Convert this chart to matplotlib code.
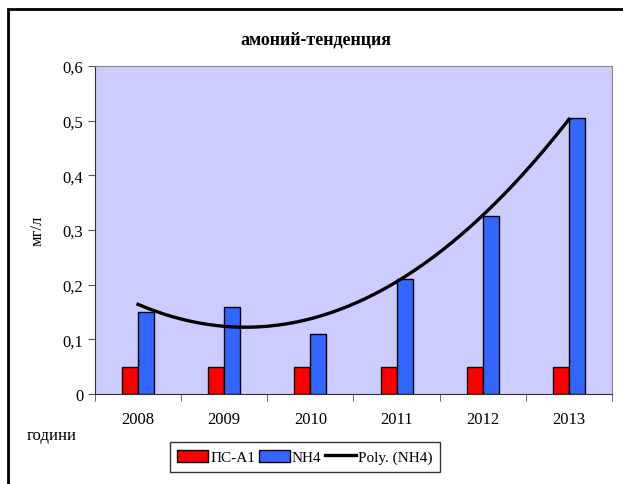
import numpy as np
import matplotlib
matplotlib.use("Agg")
import matplotlib.pyplot as plt
from matplotlib.patches import Rectangle

plt.rcParams['font.family'] = ['Liberation Serif', 'DejaVu Serif']

years = ["2008", "2009", "2010", "2011", "2012", "2013"]
ps_a1 = [0.05, 0.05, 0.05, 0.05, 0.05, 0.05]
nh4 = [0.15, 0.16, 0.11, 0.21, 0.325, 0.505]

W, H = 623, 485
fig = plt.figure(figsize=(W / 100, H / 100), dpi=100)
# plot area in pixels: left 95, right 612, top 67, bottom 395
ax = fig.add_axes([95 / W, 1 - 395 / H, (612 - 95) / W, (395 - 67) / H])
ax.set_facecolor('#CCCCFF')

x = np.arange(len(years))
bw = 0.185
b1 = ax.bar(x - bw / 2, ps_a1, bw, color='#FF0000', edgecolor='black', lw=1, label='ПС-А1', zorder=2)
b2 = ax.bar(x + bw / 2, nh4, bw, color='#3366FF', edgecolor='black', lw=1, label='NH4', zorder=2)

# 2nd order polynomial trend line of NH4
coef = np.polyfit(x, nh4, 2)
xs = np.linspace(0, len(years) - 1, 200)
ln, = ax.plot(xs, np.polyval(coef, xs), color='black', lw=2.4, label='Poly. (NH4)', zorder=3)

ax.set_xlim(-0.5, len(years) - 0.5)
ax.set_ylim(0, 0.6)
yt = np.arange(0, 0.61, 0.1)
ax.set_yticks(yt)
ax.set_yticklabels(['0' if v == 0 else f"{v:.1f}".replace('.', ',') for v in yt])
ax.set_xticks(x)
ax.set_xticklabels(years)
ax.set_xticks(np.arange(-0.5, len(years), 1), minor=True)
ax.tick_params(axis='x', which='major', length=0, pad=12, labelsize=12)
ax.tick_params(axis='x', which='minor', length=5, color='#555555')
ax.tick_params(axis='y', length=5, labelsize=12, color='#555555')
for s in ax.spines.values():
    s.set_color('#888888')
ax.spines['left'].set_color('#333333')
ax.spines['bottom'].set_color('#333333')

ax.set_ylabel('мг/л', fontsize=12, labelpad=12)
fig.text(52 / W, 1 - 436 / H, 'години', fontsize=12, ha='center', va='center')
fig.text(316 / W, 1 - 40 / H, 'амоний-тенденция', fontsize=13, fontweight='bold',
         ha='center', va='center')

leg = fig.legend([b1, b2, ln], ['ПС-А1', 'NH4', 'Poly. (NH4)'],
                 loc='center', bbox_to_anchor=(305 / W, 1 - 458 / H), ncol=3,
                 fontsize=11, frameon=True, fancybox=False, edgecolor='black',
                 handlelength=2.0, handleheight=0.8, handletextpad=0.15,
                 columnspacing=0.25, borderpad=0.5, borderaxespad=0)
leg.get_frame().set_linewidth(1)

# chart border
fig.patches.append(Rectangle((8 / W, -0.05), 1.1, 1 - 10 / H + 0.05,
                             transform=fig.transFigure, fill=False,
                             edgecolor='black', lw=2))

fig.savefig('out.png', dpi=100)
